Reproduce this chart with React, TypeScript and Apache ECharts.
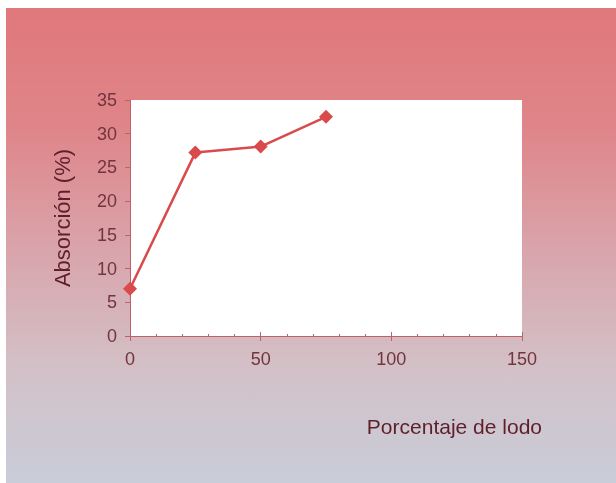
import React, { useEffect, useRef } from "react";
import * as echarts from "echarts";

// Porcentaje de lodo (x) vs absorción de agua (y)
const lodo = [0, 25, 50, 75];
const absorcion = [7, 27.2, 28.1, 32.5];
const xTicks = [0, 50, 100, 150];
const yTicks = [0, 5, 10, 15, 20, 25, 30, 35];

const labelColor = "#72343e";
const axisColor = "#c0606c";

export default function App() {
  const ref = useRef<HTMLDivElement>(null);

  useEffect(() => {
    if (!ref.current) return;
    const chart = echarts.init(ref.current, null, { renderer: "svg" });
    const points = lodo.map((x, i) => [x, absorcion[i]]);

    chart.setOption({
      animation: false,
      graphic: [
        {
          type: "rect",
          left: 6,
          top: 8,
          z: -10,
          silent: true,
          shape: { width: 610, height: 475 },
          style: {
            fill: new echarts.graphic.LinearGradient(0, 0, 0, 1, [
              { offset: 0, color: "#e0787c" },
              { offset: 0.25, color: "#df8589" },
              { offset: 0.5, color: "#d9a3aa" },
              { offset: 0.75, color: "#d3c0c6" },
              { offset: 1, color: "#c9cdd9" },
            ]),
          },
        },
      ],
      grid: {
        left: 130,
        top: 100,
        right: 94,
        bottom: 147,
        show: true,
        backgroundColor: "#ffffff",
        borderWidth: 0,
      },
      xAxis: [
        {
          type: "value",
          min: xTicks[0],
          max: xTicks[xTicks.length - 1],
          interval: 50,
          position: "bottom",
          name: "Porcentaje de lodo",
          nameLocation: "end",
          nameGap: 20,
          nameTextStyle: {
            color: "#5e1f2b",
            fontSize: 21,
            fontFamily: "Liberation Sans, Arial, sans-serif",
            align: "right",
            verticalAlign: "top",
            padding: [80, 0, 0, 0],
          },
          axisLine: { show: true, lineStyle: { color: axisColor, width: 1 } },
          axisTick: { show: true, inside: false, length: 5, lineStyle: { color: axisColor } },
          axisLabel: {
            color: labelColor,
            fontSize: 18,
            fontFamily: "Liberation Sans, Arial, sans-serif",
            margin: 14,
          },
          splitLine: { show: false },
        },
        {
          type: "value",
          min: xTicks[0],
          max: xTicks[xTicks.length - 1],
          interval: 50,
          position: "bottom",
          axisLine: { show: false },
          axisTick: { show: true, inside: true, length: 4, lineStyle: { color: axisColor } },
          minorTick: { show: true, splitNumber: 5, length: 2, lineStyle: { color: axisColor } },
          axisLabel: { show: false },
          splitLine: { show: false },
        },
      ],
      yAxis: {
        type: "value",
        min: yTicks[0],
        max: yTicks[yTicks.length - 1],
        interval: 5,
        name: "Absorción (%)",
        nameLocation: "middle",
        nameGap: 57,
        nameTextStyle: {
          color: "#5e1f2b",
          fontSize: 22,
          fontFamily: "Liberation Sans, Arial, sans-serif",
        },
        axisLine: { show: true, lineStyle: { color: axisColor, width: 1 } },
        axisTick: { show: true, inside: false, length: 5, lineStyle: { color: axisColor } },
        axisLabel: {
          color: labelColor,
          fontSize: 18,
          fontFamily: "Liberation Sans, Arial, sans-serif",
          margin: 13,
        },
        splitLine: { show: false },
      },
      series: [
        {
          type: "line",
          data: points,
          xAxisIndex: 0,
          lineStyle: { color: "#d94a4c", width: 2.5 },
          itemStyle: { color: "#d94a4c" },
          symbol: "diamond",
          symbolSize: 14,
        },
      ],
    });

    return () => chart.dispose();
  }, []);

  return (
    <div
      ref={ref}
      style={{ position: "fixed", left: 0, top: 0, width: 616, height: 483 }}
    />
  );
}
